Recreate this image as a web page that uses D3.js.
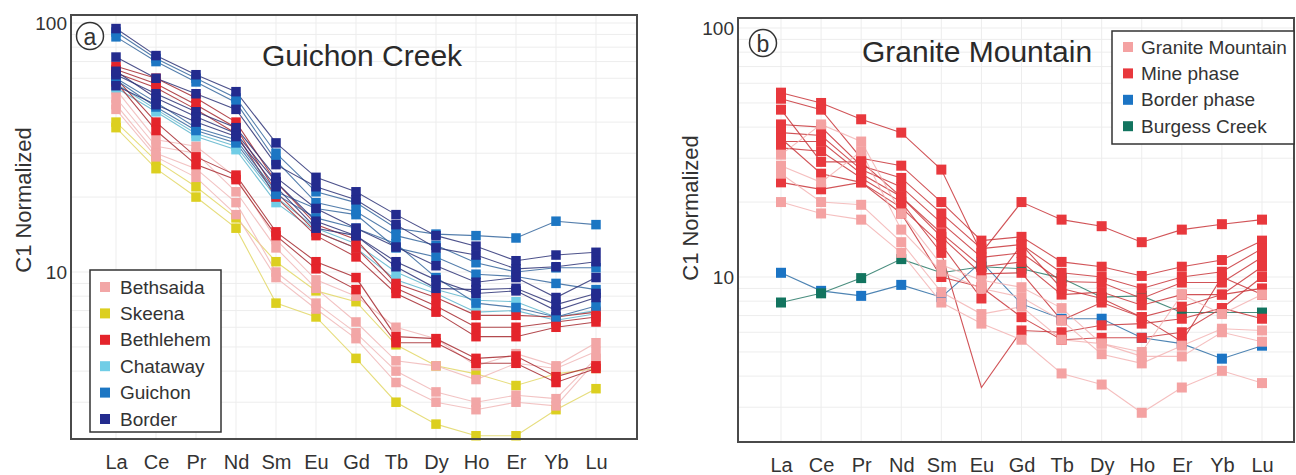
<!DOCTYPE html>
<html><head><meta charset="utf-8">
<script src="https://cdn.jsdelivr.net/npm/d3@7"></script>
<style>body{margin:0;background:#fff}svg{display:block}</style>
</head><body><svg id="c" width="1296" height="475"></svg>
<script>
const ree = ["La","Ce","Pr","Nd","Sm","Eu","Gd","Tb","Dy","Ho","Er","Yb","Lu"];
const yTickValues = [10, 100];

// ---- Panel a: Guichon Creek ----
const aBethsaida = [
  [54, 34, 32, 24, 13.5, 9.3, 8, 6, 5.4, 4.2, 4.7, 4.2, 5.2],
  [50, 32, 30, 21, 12.5, 8.6, 6.3, 4.4, 4.2, 3.7, 4.3, 4.1, 4.8],
  [47, 30, 26, 19, 10, 7.5, 5.7, 4, 3.3, 3, 3.2, 3.1, 4.5],
  [45, 29, 24, 17, 9.5, 7.1, 5.4, 3.6, 3, 2.8, 3, 2.9, 4.4]
];
const aSkeena = [
  [40, 28, 22, 16.5, 11, 8.4, 7.6, 5.1, 4.2, 3.9, 3.5, 3.9, 4.1],
  [38, 26, 20, 15, 7.5, 6.6, 4.5, 3, 2.45, 2.2, 2.2, 2.8, 3.4]
];
const aBethlehem = [
  [67, 60, 50, 40, 23, 15.5, 13.5, 9, 7.9, 6.7, 6.7, 6.6, 6.9],
  [65, 57, 47, 38, 21, 14.5, 12.5, 8.6, 7.3, 6, 6, 6.3, 6.6],
  [63, 55, 45, 36, 20, 14, 11.5, 8.2, 6.9, 5.5, 5.5, 6, 6.3],
  [60, 40, 29, 24.5, 14.5, 11, 9.5, 5.5, 5.4, 4.5, 4.6, 3.8, 4.2],
  [58, 37, 27, 23.5, 14, 10.3, 8.5, 5.2, 5.2, 4.3, 4.3, 3.6, 4.1]
];
const aChataway = [
  [57, 45, 36, 32, 20, 15, 13, 10, 8.5, 7.7, 7.6, 6.6, 7],
  [55, 44, 35, 31, 19, 14.5, 12.5, 9.3, 8.2, 6.9, 7, 6.4, 6.8]
];
const aGuichon = [
  [92, 72, 60, 50, 30, 21, 19, 15, 14.2, 14, 13.7, 16, 15.5],
  [88, 70, 58, 48, 28, 19, 17.5, 14, 12.8, 10.9, 10, 10.4, 10.4],
  [60, 48, 38, 34, 21, 18, 17, 12.5, 11.5, 9.8, 9.6, 9, 8.5],
  [59, 46, 37, 33, 20.5, 16.5, 15, 13, 9.5, 7.5, 7.2, 6.6, 7.3]
];
const aBorder = [
  [95, 74, 62, 53, 33, 24, 21, 17, 14, 12.7, 11.1, 11.7, 12],
  [73, 60, 52, 45, 27, 22, 19.5, 15.5, 12.5, 11.7, 10.3, 10.5, 11],
  [62, 52, 44, 38, 24, 18, 15, 12.6, 10.6, 9.1, 9.5, 7.9, 9.5],
  [64, 50, 42, 36, 23, 16, 14, 11, 9.3, 8.2, 8.4, 7, 7.9],
  [56, 47, 40, 35, 22, 15, 14, 10.5, 8.6, 8.5, 8.6, 7.4, 8.2]
];
const aLegendNames = ["Bethsaida", "Skeena", "Bethlehem", "Chataway", "Guichon", "Border"];

// ---- Panel b: Granite Mountain ----
const bGraniteMountain = [
  [31, 41, 35, 18, 11.2, 9.7, 9.1, 7.5, 5.4, 5, 8.5, 7.1, 8.5],
  [28, 24, 32, 15.5, 10.5, 9, 8.3, 6.7, 4.9, 4.5, 5.3, 6.2, 6.1],
  [26, 20, 19.5, 13.8, 8.7, 7.1, 7.6, 5.6, 5.4, 4.8, 4.8, 6, 5.5],
  [20, 18, 17, 12.5, 7.9, 6.5, 5.6, 4.1, 3.7, 2.85, 3.6, 4.2, 3.75]
];
const bMinePhase = [
  [55, 50, 43, 38, 27, 12.5, 20, 17, 16, 13.8, 15.5, 16.3, 17],
  [52, 47, 30, 28, 20, 14, 14.5, 11.5, 11, 10.1, 11, 11.7, 14],
  [41, 40, 28, 25, 18, 13, 13.5, 10.4, 10, 9, 10, 10.5, 13],
  [38, 37, 27, 23, 16.5, 12, 12.5, 9.6, 9.5, 8.2, 9.5, 9.5, 12],
  [35, 35, 26, 21, 15, 11, 11.5, 8.5, 8.7, 7.7, 8.5, 8.5, 11],
  [33, 32, 25, 20, 12.5, 3.6, 6.1, 6, 6.4, 6.5, 6.8, 7.5, 10],
  [24, 22.5, 24, 18, 10, 9.1, 6.9, 5.6, 5.7, 5.7, 6, 7.5, 6.8],
  [47, 29, 29, 21, 14.5, 10.3, 10.4, 6.7, 7.9, 6.9, 7.6, 8.5, 9],
  [36, 26, 24, 19, 13.5, 8.2, 13.5, 9, 8.2, 6.9, 5.5, 10, 8.5]
];
const bMineUnmarked = [[5, "Eu"]];
const bBorderPhase = [
  [10.4, 8.8, 8.4, 9.3, 8.3, 11.5, 7.8, 6.8, 6.8, 5.7, 5.4, 4.7, 5.3]
];
const bBurgessCreek = [
  [7.9, 8.6, 9.9, 11.8, 10.4, 11, 10.8, 9.9, 8.3, 8.4, 7.2, 7.2, 7.2]
];
const bLegendNames = ["Granite Mountain", "Mine phase", "Border phase", "Burgess Creek"];

// ---- drawing ----
const svg = d3.select("#c");
const FONT = "'Liberation Sans', Arial, Helvetica, sans-serif";

function drawPanel(cfg) {
  const x = d3.scalePoint().domain(ree).range([cfg.xFirst, cfg.xLast]);
  const y = d3.scaleLog().domain(cfg.yDomain).range([cfg.bottom, cfg.top]);
  const g = svg.append("g");

  // grid
  const minor = [];
  [1, 10, 100].forEach(d => { for (let k = 1; k < 10; k++) { const v = k * d; if (v > cfg.yDomain[0] && v < cfg.yDomain[1]) minor.push(v); } });
  g.append("g").selectAll("line").data(minor).join("line")
    .attr("x1", cfg.left).attr("x2", cfg.right)
    .attr("y1", d => y(d)).attr("y2", d => y(d))
    .attr("stroke", "#ededed").attr("stroke-width", 1);
  g.append("g").selectAll("line").data(ree).join("line")
    .attr("x1", d => x(d)).attr("x2", d => x(d))
    .attr("y1", cfg.top).attr("y2", cfg.bottom)
    .attr("stroke", "#ededed").attr("stroke-width", 1);

  const line = d3.line().x((d, i) => x(ree[i])).y(d => y(d));

  // lines
  cfg.groups.forEach(grp => {
    g.append("g").selectAll("path").data(grp.data).join("path")
      .attr("d", line).attr("fill", "none")
      .attr("stroke", grp.line).attr("stroke-width", 1.1).attr("stroke-opacity", 0.85);
  });
  // markers
  const ms = cfg.markerSize;
  cfg.groups.forEach(grp => {
    const pts = [];
    grp.data.forEach((s, si) => s.forEach((v, i) => {
      const hidden = (grp.unmarked || []).some(u => u[0] === si && u[1] === ree[i]);
      if (!hidden) pts.push({ el: ree[i], v });
    }));
    g.append("g").selectAll("rect").data(pts).join("rect")
      .attr("x", d => x(d.el) - ms / 2).attr("y", d => y(d.v) - ms / 2)
      .attr("width", ms).attr("height", ms).attr("fill", grp.color);
  });

  // frame
  g.append("rect").attr("x", cfg.left).attr("y", cfg.top)
    .attr("width", cfg.right - cfg.left).attr("height", cfg.bottom - cfg.top)
    .attr("fill", "none").attr("stroke", "#4a4a4a").attr("stroke-width", 2);

  // y axis labels
  const ya = g.append("g").attr("transform", `translate(${cfg.left},0)`)
    .call(d3.axisLeft(y).tickValues(yTickValues).tickFormat(d3.format("d")).tickSize(0).tickPadding(4));
  ya.select(".domain").remove();
  ya.selectAll("text").attr("font-family", FONT).attr("font-size", 19).attr("fill", "#333");

  // x axis labels
  const xa = g.append("g").attr("transform", `translate(0,${cfg.bottom})`)
    .call(d3.axisBottom(x).tickSize(0).tickPadding(16));
  xa.select(".domain").remove();
  xa.selectAll("text").attr("font-family", FONT).attr("font-size", 20).attr("fill", "#333");

  // y title
  g.append("text").attr("transform", `translate(${cfg.yTitleX},${cfg.yTitleY}) rotate(-90)`)
    .attr("text-anchor", "middle").attr("dominant-baseline", "central")
    .attr("font-family", FONT).attr("font-size", 22).attr("fill", "#333").text("C1 Normalized");

  // title
  g.append("text").attr("x", cfg.titleX).attr("y", cfg.titleY)
    .attr("font-family", FONT).attr("font-size", 30).attr("fill", "#2a2a2a").text(cfg.title);

  // circled letter
  g.append("circle").attr("cx", cfg.circX).attr("cy", cfg.circY).attr("r", 13.5)
    .attr("fill", "#fff").attr("stroke", "#333").attr("stroke-width", 1.5);
  g.append("text").attr("x", cfg.circX).attr("y", cfg.circY + 1)
    .attr("text-anchor", "middle").attr("dominant-baseline", "central")
    .attr("font-family", FONT).attr("font-size", 23).attr("fill", "#333").text(cfg.letter);

  // legend
  const L = cfg.legend;
  const lg = g.append("g");
  lg.append("rect").attr("x", L.x).attr("y", L.y).attr("width", L.w).attr("height", L.h)
    .attr("fill", "#fff").attr("stroke", "#333").attr("stroke-width", 1.5);
  const items = L.names.map((n, i) => ({ name: n, color: L.colors[i], i }));
  lg.selectAll("rect.k").data(items).join("rect").attr("class", "k")
    .attr("x", L.mx).attr("y", d => L.y0 + d.i * L.step - 5)
    .attr("width", 10).attr("height", 10).attr("fill", d => d.color);
  lg.selectAll("text").data(items).join("text")
    .attr("x", L.tx).attr("y", d => L.y0 + d.i * L.step)
    .attr("dominant-baseline", "central")
    .attr("font-family", FONT).attr("font-size", 19).attr("fill", "#333").text(d => d.name);
}

const cA = { bethsaida: "#f2a6a6", skeena: "#dccf1f", bethlehem: "#e4242b", chataway: "#70cde6", guichon: "#1c76c3", border: "#232b8e" };
drawPanel({
  left: 71, right: 637, top: 15, bottom: 439,
  xFirst: 116, xLast: 596, yDomain: [2.135, 107.7], markerSize: 9.5,
  yTitleX: 23, yTitleY: 200, title: "Guichon Creek", titleX: 262, titleY: 66,
  circX: 90, circY: 36, letter: "a",
  groups: [
    { data: aSkeena, color: cA.skeena, line: "#e2d766" },
    { data: aBethsaida, color: cA.bethsaida, line: "#f0b8b8" },
    { data: aChataway, color: cA.chataway, line: "#5eb5cc" },
    { data: aBethlehem, color: cA.bethlehem, line: "#a62a30" },
    { data: aGuichon, color: cA.guichon, line: "#36679d" },
    { data: aBorder, color: cA.border, line: "#2e3477" }
  ],
  legend: { x: 90, y: 270, w: 131, h: 162, mx: 100, tx: 120, y0: 287, step: 26.4,
    names: aLegendNames, colors: [cA.bethsaida, cA.skeena, cA.bethlehem, cA.chataway, cA.guichon, cA.border] }
});

const cB = { gm: "#f4a2a2", mine: "#e8383d", bp: "#1b74c4", bc: "#12745f" };
drawPanel({
  left: 738, right: 1294, top: 18, bottom: 442,
  xFirst: 781, xLast: 1262, yDomain: [2.175, 109.7], markerSize: 10,
  yTitleX: 690, yTitleY: 208, title: "Granite Mountain", titleX: 862, titleY: 62,
  circX: 763, circY: 43, letter: "b",
  groups: [
    { data: bBorderPhase, color: cB.bp, line: "#2f6ea6" },
    { data: bBurgessCreek, color: cB.bc, line: "#2a7a68" },
    { data: bMinePhase, color: cB.mine, line: "#c9363b", unmarked: bMineUnmarked },
    { data: bGraniteMountain, color: cB.gm, line: "#f3b4b4" }
  ],
  legend: { x: 1112, y: 31, w: 182, h: 113, mx: 1123, tx: 1141, y0: 47, step: 26.4,
    names: bLegendNames, colors: [cB.gm, cB.mine, cB.bp, cB.bc] }
});
</script></body></html>
